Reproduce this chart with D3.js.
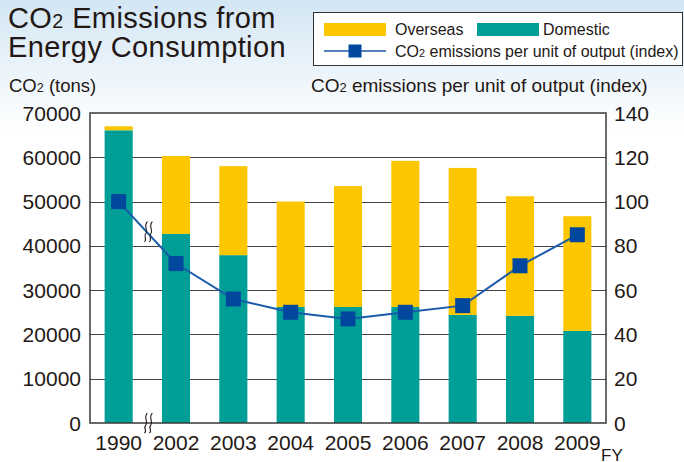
<!DOCTYPE html>
<html>
<head>
<meta charset="utf-8">
<script src="https://cdn.jsdelivr.net/npm/d3@7"></script>
<style>
  body { margin: 0; background: #fff; }
  svg { display: block; font-family: "Liberation Sans", Arial, sans-serif; }
</style>
</head>
<body>
<svg width="684" height="462"></svg>
<script>
// data
var years = ["1990", "2002", "2003", "2004", "2005", "2006", "2007", "2008", "2009"];
var domestic = [66100, 42700, 37900, 26200, 26200, 26200, 24400, 24200, 20800];
var overseas = [900, 17600, 20100, 23800, 27300, 33000, 33200, 27000, 25900];
var intensity = [100, 72, 56, 50, 47, 50, 53, 71, 85];
var leftTicks = [0, 10000, 20000, 30000, 40000, 50000, 60000, 70000];
var rightTicks = [0, 20, 40, 60, 80, 100, 120, 140];

var svg = d3.select("svg"),
  width = +svg.attr("width"),
  height = +svg.attr("height");

var yellow = "#fcc600", teal = "#009e96", blue = "#1a5aa8", marker = "#00479d", ink = "#231815";

// background gradient
var defs = svg.append("defs");
var grad = defs.append("linearGradient").attr("id", "bg")
  .attr("x1", 0).attr("y1", 0).attr("x2", 0).attr("y2", 1);
grad.append("stop").attr("offset", "0%").attr("stop-color", "#d3e6f4");
grad.append("stop").attr("offset", "28%").attr("stop-color", "#ffffff");
svg.append("rect").attr("width", width).attr("height", height).attr("fill", "url(#bg)");

var m = {left: 90, right: 606, top: 113, bottom: 423};

var x = d3.scaleBand().domain(years).range([m.left, m.right]).paddingInner(0.51).paddingOuter(0.255);
var y = d3.scaleLinear().domain([0, 70000]).range([m.bottom, m.top]);
var y2 = d3.scaleLinear().domain([0, 140]).range([m.bottom, m.top]);

// plot area
svg.append("rect").attr("x", m.left).attr("y", m.top)
  .attr("width", m.right - m.left).attr("height", m.bottom - m.top).attr("fill", "#fff");

// gridlines
svg.append("g").selectAll("line").data(leftTicks.slice(1, -1)).enter().append("line")
  .attr("x1", m.left).attr("x2", m.right)
  .attr("y1", function (d) { return Math.round(y(d)) + 0.5; })
  .attr("y2", function (d) { return Math.round(y(d)) + 0.5; })
  .attr("stroke", "#444").attr("stroke-width", 1);

// stacked bars
var rows = years.map(function (yr, i) { return {year: yr, domestic: domestic[i], overseas: overseas[i]}; });
var stack = d3.stack().keys(["domestic", "overseas"])(rows);
var colors = {domestic: teal, overseas: yellow};

svg.append("g").selectAll("g").data(stack).enter().append("g")
  .attr("fill", function (d) { return colors[d.key]; })
  .selectAll("rect").data(function (d) { return d; }).enter().append("rect")
    .attr("x", function (d) { return x(d.data.year); })
    .attr("width", x.bandwidth())
    .attr("y", function (d) { return y(d[1]); })
    .attr("height", function (d) { return y(d[0]) - y(d[1]); });

// frame
svg.append("rect").attr("x", m.left).attr("y", m.top)
  .attr("width", m.right - m.left).attr("height", m.bottom - m.top)
  .attr("fill", "none").attr("stroke", "#3a3a3a").attr("stroke-width", 1.5);

// index line
var cx = function (i) { return x(years[i]) + x.bandwidth() / 2; };
var line = d3.line().x(function (d, i) { return cx(i); }).y(function (d) { return y2(d); });
svg.append("path").datum(intensity).attr("d", line)
  .attr("fill", "none").attr("stroke", blue).attr("stroke-width", 2);

svg.append("g").selectAll("rect").data(intensity).enter().append("rect")
  .attr("x", function (d, i) { return cx(i) - 7.5; })
  .attr("y", function (d) { return y2(d) - 7.5; })
  .attr("width", 15).attr("height", 15).attr("fill", marker);

// axis break marks
function breakMark(bx, by) {
  var g = svg.append("g").attr("transform", "translate(" + bx + "," + by + ")");
  [-2.5, 2.5].forEach(function (dx) {
    g.append("path")
      .attr("d", "M" + (dx + 1.5) + ",-10 C" + (dx - 3) + ",-5 " + (dx + 3) + ",-1 " + dx + ",2 C" + (dx - 3) + ",5 " + (dx + 2) + ",8 " + (dx - 1.5) + ",10")
      .attr("fill", "none").attr("stroke", ink).attr("stroke-width", 1.1);
  });
}
var bx = m.left + x.step() * (x.paddingOuter() + 1) - x.step() * x.paddingInner() / 2 + 1;
var t = (bx - cx(0)) / (cx(1) - cx(0));
breakMark(bx, y2(intensity[0]) + t * (y2(intensity[1]) - y2(intensity[0])) - 2);
breakMark(bx, m.bottom);

// tick labels
svg.append("g").selectAll("text").data(leftTicks).enter().append("text")
  .attr("x", 81).attr("y", function (d) { return y(d); }).attr("dy", "0.36em")
  .attr("text-anchor", "end").attr("font-size", 21).attr("fill", ink)
  .text(function (d) { return d; });

svg.append("g").selectAll("text").data(rightTicks).enter().append("text")
  .attr("x", 614).attr("y", function (d) { return y2(d); }).attr("dy", "0.36em")
  .attr("font-size", 21).attr("fill", ink)
  .text(function (d) { return d; });

svg.append("g").selectAll("text").data(years).enter().append("text")
  .attr("x", function (d) { return x(d) + x.bandwidth() / 2; }).attr("y", 450)
  .attr("text-anchor", "middle").attr("font-size", 21).attr("fill", ink)
  .text(function (d) { return d; });

svg.append("text").attr("x", 601).attr("y", 461).attr("font-size", 17).attr("fill", ink).text("FY");

// text with a small subscript 2
function co2Text(sel, rest, size) {
  sel.append("tspan").text("CO");
  sel.append("tspan").attr("font-size", size * 0.68).text("2");
  sel.append("tspan").text(rest);
}

var title1 = svg.append("text").attr("x", 8).attr("y", 28)
  .attr("font-size", 29).attr("letter-spacing", 0.4).attr("fill", ink);
co2Text(title1, " Emissions from", 29);
svg.append("text").attr("x", 8).attr("y", 57)
  .attr("font-size", 29).attr("letter-spacing", 0.4).attr("fill", ink).text("Energy Consumption");

var ylab = svg.append("text").attr("x", 9).attr("y", 92).attr("font-size", 18.5).attr("fill", ink);
co2Text(ylab, " (tons)", 18.5);
var y2lab = svg.append("text").attr("x", 311).attr("y", 92).attr("font-size", 19).attr("fill", ink);
co2Text(y2lab, " emissions per unit of output (index)", 19);

// legend
var lg = svg.append("g");
lg.append("rect").attr("x", 313.5).attr("y", 12.5).attr("width", 369).attr("height", 53)
  .attr("fill", "#fff").attr("stroke", "#333").attr("stroke-width", 1);
lg.append("rect").attr("x", 324).attr("y", 23).attr("width", 62).attr("height", 13).attr("fill", yellow);
lg.append("text").attr("x", 395).attr("y", 35).attr("font-size", 16).attr("fill", ink).text("Overseas");
lg.append("rect").attr("x", 477).attr("y", 23).attr("width", 62).attr("height", 13).attr("fill", teal);
lg.append("text").attr("x", 543).attr("y", 35).attr("font-size", 16).attr("fill", ink).text("Domestic");
lg.append("line").attr("x1", 324).attr("x2", 386).attr("y1", 51).attr("y2", 51)
  .attr("stroke", blue).attr("stroke-width", 1.5);
lg.append("rect").attr("x", 348.5).attr("y", 44.5).attr("width", 13).attr("height", 13).attr("fill", marker);
var lt = lg.append("text").attr("x", 395).attr("y", 57).attr("font-size", 16).attr("fill", ink);
co2Text(lt, " emissions per unit of output (index)", 16);
</script>
</body>
</html>
